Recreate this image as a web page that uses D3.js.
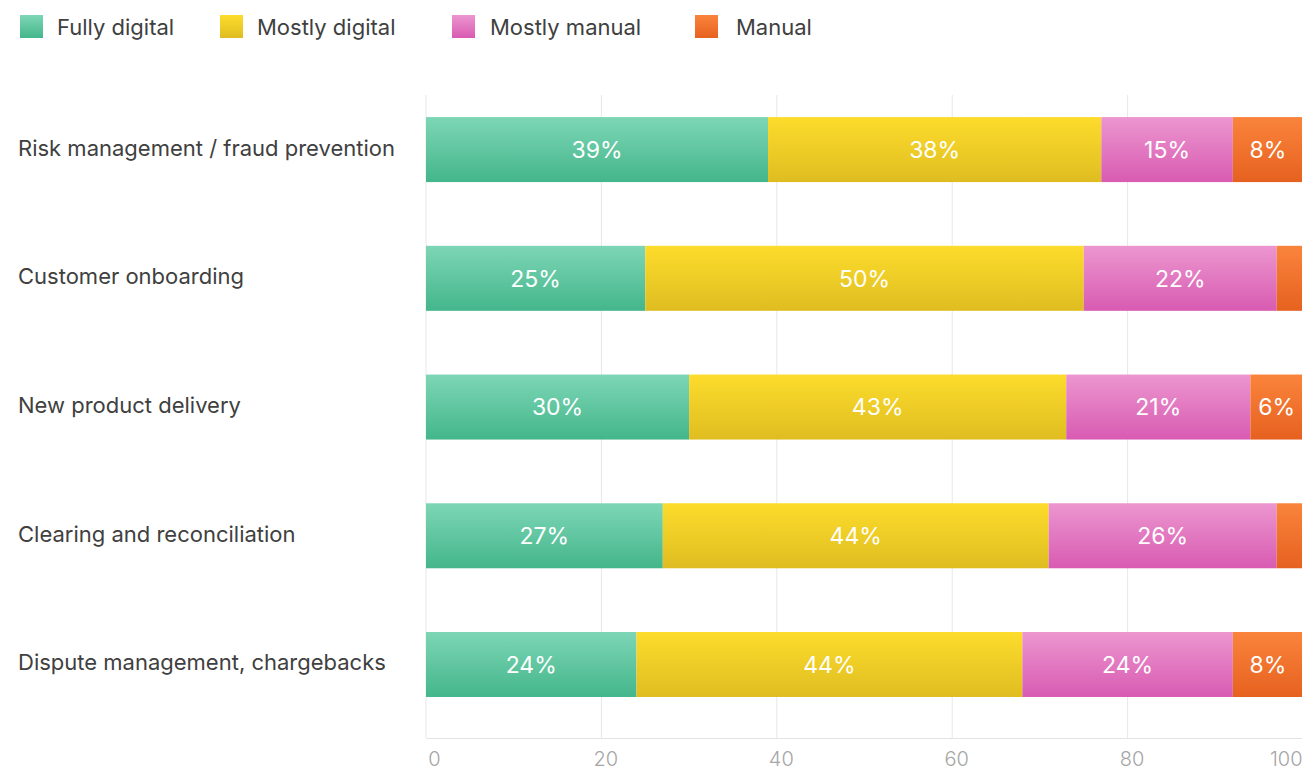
<!DOCTYPE html>
<html>
<head>
<meta charset="utf-8">
<script src="https://cdn.jsdelivr.net/npm/d3@7"></script>
<style>
  html, body { margin: 0; padding: 0; background: #fff; }
  svg { display: block; font-family: Inter, "Noto Sans", sans-serif; }
</style>
</head>
<body>
<svg id="chart" width="1302" height="771"></svg>
<script>
// Share of respondents by level of digitalisation, per process
const categories = [
  "Risk management / fraud prevention",
  "Customer onboarding",
  "New product delivery",
  "Clearing and reconciliation",
  "Dispute management, chargebacks"
];
const seriesNames = ["Fully digital", "Mostly digital", "Mostly manual", "Manual"];
const fullyDigital  = [39, 25, 30, 27, 24];
const mostlyDigital = [38, 50, 43, 44, 44];
const mostlyManual  = [15, 22, 21, 26, 24];
const manual        = [8, 3, 6, 3, 8];
const tickValues = [0, 20, 40, 60, 80, 100];

// gradient stops (top, bottom) per series
const colors = [
  ["#7dd6b6", "#44b68b"],
  ["#fddc2c", "#dfbd21"],
  ["#ec96cf", "#d85bb2"],
  ["#fa843c", "#e6611f"]
];

const seriesValues = [fullyDigital, mostlyDigital, mostlyManual, manual];
const rows = categories.map((c, i) => {
  const r = { category: c };
  seriesNames.forEach((s, k) => r[s] = seriesValues[k][i]);
  return r;
});
const stacked = d3.stack().keys(seriesNames)(rows);

const svg = d3.select("#chart");
const plot = { left: 426, right: 1303, top: 95, bottom: 738 };

const x = d3.scaleLinear().domain([0, 100]).range([plot.left, plot.right]);
const y = d3.scaleBand().domain(categories).range([plot.top, plot.bottom])
  .paddingInner(0.495).paddingOuter(0.245).align(0.35);

const defs = svg.append("defs");
colors.forEach((c, k) => {
  const g = defs.append("linearGradient").attr("id", "grad" + k)
    .attr("x1", 0).attr("y1", 0).attr("x2", 0).attr("y2", 1);
  g.append("stop").attr("offset", "0%").attr("stop-color", c[0]);
  g.append("stop").attr("offset", "100%").attr("stop-color", c[1]);
});

// vertical gridlines
svg.append("g").selectAll("line").data(tickValues).join("line")
  .attr("x1", d => x(d)).attr("x2", d => x(d))
  .attr("y1", plot.top).attr("y2", plot.bottom)
  .attr("stroke", "#e7e7e7").attr("stroke-width", 1);

// bottom axis
const axis = svg.append("g").attr("transform", `translate(0,${plot.bottom})`)
  .call(d3.axisBottom(x).tickValues(tickValues).tickSize(0).tickPadding(14));
axis.select(".domain").attr("stroke", "#e3e3e3");
axis.selectAll("text")
  .attr("font-family", "Inter, 'Noto Sans', sans-serif")
  .attr("font-size", 20).attr("font-weight", 300).attr("fill", "#a6a6a6")
  .attr("text-anchor", d => d === 100 ? "end" : "middle")
  .attr("dx", d => d === 0 ? 8 : (d === 100 ? -1 : 4));

// stacked bars
const layers = svg.append("g").selectAll("g").data(stacked).join("g")
  .attr("fill", (d, k) => `url(#grad${k})`);
layers.selectAll("rect").data(d => d).join("rect")
  .attr("x", d => x(d[0]))
  .attr("y", d => y(d.data.category))
  .attr("width", d => x(d[1]) - x(d[0]))
  .attr("height", y.bandwidth());

// value labels
layers.selectAll("text").data(d => d.filter(v => v[1] - v[0] >= 5)).join("text")
  .attr("x", d => (x(d[0]) + x(d[1])) / 2)
  .attr("y", d => y(d.data.category) + y.bandwidth() / 2)
  .attr("dy", "0.36em")
  .attr("text-anchor", "middle")
  .attr("fill", "#fff")
  .attr("font-size", 23)
  .text(d => (d[1] - d[0]) + "%");

// category labels
svg.append("g").selectAll("text").data(categories).join("text")
  .attr("x", 18)
  .attr("y", d => y(d) + y.bandwidth() / 2 - 2)
  .attr("dy", "0.36em")
  .attr("font-size", 22)
  .attr("fill", "#404040")
  .text(d => d);

// legend
const legendX = [20, 220, 452, 695];
const legendGap = [37, 37, 38, 41];
const legend = svg.append("g").selectAll("g").data(seriesNames).join("g")
  .attr("transform", (d, k) => `translate(${legendX[k]},15)`);
legend.append("rect").attr("width", 23).attr("height", 23)
  .attr("fill", (d, k) => `url(#grad${k})`);
legend.append("text").attr("x", (d, k) => legendGap[k]).attr("y", 12).attr("dy", "0.36em")
  .attr("font-size", 22).attr("fill", "#404040")
  .text(d => d);
</script>
</body>
</html>
